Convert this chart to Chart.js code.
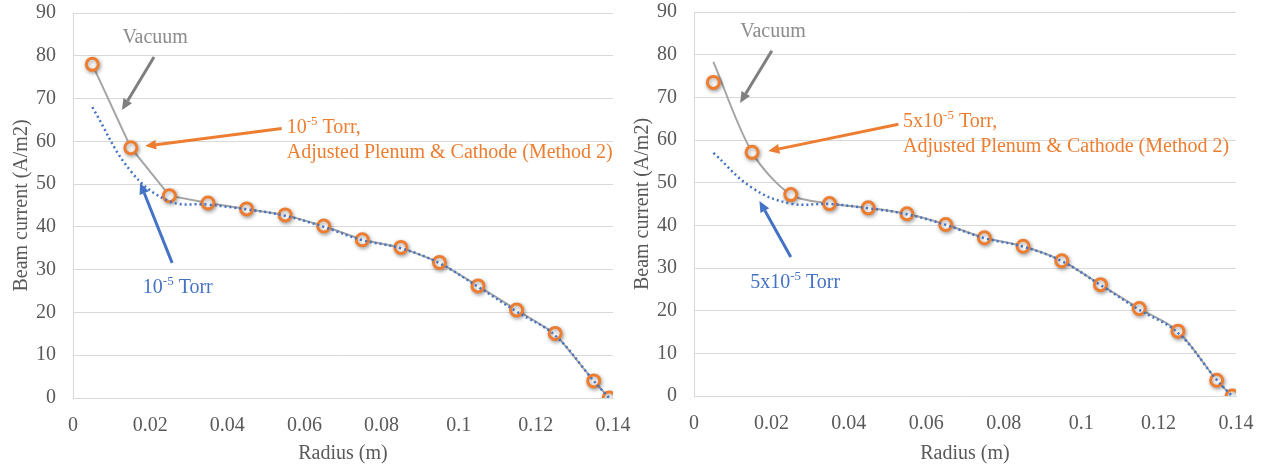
<!DOCTYPE html>
<html>
<head>
<meta charset="utf-8">
<script src="https://cdn.jsdelivr.net/npm/chart.js@4/dist/chart.umd.min.js"></script>
<style>
  body { margin: 0; background: #fff; }
  .box { position: absolute; top: 0; height: 466px; }
  #js--left { left: 0; width: 640px; }
  #js--right { left: 621px; width: 643px; }
</style>
</head>
<body>
<div class="box" id="js--left"><canvas id="js--chart--1"></canvas></div>
<div class="box" id="js--right"><canvas id="js--chart--2"></canvas></div>
<script>
const radius = [0.005, 0.015, 0.025, 0.035, 0.045, 0.055, 0.065, 0.075, 0.085, 0.095, 0.105, 0.115, 0.125, 0.135, 0.139];
const xTicks = [0, 0.02, 0.04, 0.06, 0.08, 0.1, 0.12, 0.14];
const yTicks = [0, 10, 20, 30, 40, 50, 60, 70, 80, 90];

// left chart: 10^-5 Torr
const vacuumLeft = [78, 58.5, 47.3, 45.6, 44.2, 42.8, 40.2, 37.0, 35.2, 31.7, 26.2, 20.6, 15.1, 4.0, 0];
const torrLeft = [68, 53, 46, 45.2, 44.1, 42.6, 40.0, 36.9, 35.0, 31.5, 26.0, 20.2, 14.6, 4.0, 0];
const methodLeft = [78, 58.5, 47.3, 45.6, 44.2, 42.8, 40.2, 37.0, 35.2, 31.7, 26.2, 20.6, 15.1, 4.0, 0];

// right chart: 5x10^-5 Torr
const vacuumRight = [78.3, 57.1, 47.2, 45.1, 44.1, 42.7, 40.2, 37.1, 35.1, 31.7, 26.1, 20.5, 15.2, 3.7, 0];
const torrRight = [57, 48.8, 45.1, 45.0, 44.0, 42.6, 40.1, 37.0, 35.0, 31.6, 26.0, 20.2, 14.8, 3.8, 0];
const methodRight = [73.5, 57.1, 47.2, 45.1, 44.1, 42.7, 40.2, 37.1, 35.1, 31.7, 26.1, 20.5, 15.2, 3.7, 0];

const grey = "#A5A5A5";
const greyDark = "#7F7F7F";
const orange = "#ED7D31";
const blue = "#4472C4";
const textGrey = "#595959";
const font = "'Liberation Serif', 'Times New Roman', serif";

// notes in data units: arrows [x1, y1] -> tip [x2, y2], text lines at [x, baseline y]
const notesLeft = {
    vacuum: { at: [0.0213, 83.0] },
    arrows: [
        { from: [0.0210, 79.7], to: [0.0127, 67.3], color: greyDark },
        { from: [0.0541, 63.0], to: [0.0187, 58.9], color: orange },
        { from: [0.0257, 31.6], to: [0.0174, 50.3], color: blue }
    ],
    orangeText: { at: [0.0554, 61.9], lead: "10", second: [0.0554, 56.1] },
    blueText: { at: [0.0181, 24.5], lead: "10" }
};
const notesRight = {
    vacuum: { at: [0.0204, 84.1] },
    arrows: [
        { from: [0.0201, 80.9], to: [0.0119, 68.7], color: greyDark },
        { from: [0.0528, 63.7], to: [0.0192, 57.4], color: orange },
        { from: [0.0250, 32.6], to: [0.0169, 45.7], color: blue }
    ],
    orangeText: { at: [0.0540, 63.0], lead: "5x10", second: [0.0540, 57.2] },
    blueText: { at: [0.0145, 25.3], lead: "5x10" }
};

function points(values) {
    return values.map(function (v, i) { return { x: radius[i], y: v }; });
}

function drawArrow(ctx, x1, y1, x2, y2, color) {
    const ang = Math.atan2(y2 - y1, x2 - x1);
    const head = 11;
    const half = 5;
    const bx = x2 - head * Math.cos(ang);
    const by = y2 - head * Math.sin(ang);
    ctx.strokeStyle = color;
    ctx.fillStyle = color;
    ctx.lineWidth = 3;
    ctx.beginPath();
    ctx.moveTo(x1, y1);
    ctx.lineTo(bx, by);
    ctx.stroke();
    ctx.beginPath();
    ctx.moveTo(x2, y2);
    ctx.lineTo(bx + half * Math.sin(ang), by - half * Math.cos(ang));
    ctx.lineTo(bx - half * Math.sin(ang), by + half * Math.cos(ang));
    ctx.closePath();
    ctx.fill();
}

// text with a "-5" superscript after the lead
function drawTorr(ctx, x, y, lead, tail, color) {
    ctx.fillStyle = color;
    ctx.textAlign = "left";
    ctx.textBaseline = "alphabetic";
    ctx.font = "20px " + font;
    ctx.fillText(lead, x, y);
    x += ctx.measureText(lead).width;
    ctx.font = "13px " + font;
    ctx.fillText("-5", x, y - 8);
    x += ctx.measureText("-5").width;
    ctx.font = "20px " + font;
    ctx.fillText(tail, x, y);
}

const notePlugin = {
    id: "notes",
    afterDatasetsDraw(chart) {
        const notes = chart.options.plugins.notes;
        const xs = chart.scales.x;
        const ys = chart.scales.y;
        const ctx = chart.ctx;
        const px = function (p) { return [xs.getPixelForValue(p[0]), ys.getPixelForValue(p[1])]; };
        ctx.save();
        notes.arrows.forEach(function (a) {
            const f = px(a.from);
            const t = px(a.to);
            drawArrow(ctx, f[0], f[1], t[0], t[1], a.color);
        });
        const v = px(notes.vacuum.at);
        ctx.font = "20px " + font;
        ctx.fillStyle = "#8C8C8C";
        ctx.textAlign = "center";
        ctx.textBaseline = "alphabetic";
        ctx.fillText("Vacuum", v[0], v[1]);
        const o = px(notes.orangeText.at);
        drawTorr(ctx, o[0], o[1], notes.orangeText.lead, " Torr,", orange);
        const o2 = px(notes.orangeText.second);
        ctx.font = "20px " + font;
        ctx.fillStyle = orange;
        ctx.textAlign = "left";
        ctx.fillText("Adjusted Plenum & Cathode (Method 2)", o2[0], o2[1]);
        const b = px(notes.blueText.at);
        drawTorr(ctx, b[0], b[1], notes.blueText.lead, " Torr", blue);
        ctx.restore();
    }
};

const shadowPlugin = {
    id: "markerShadow",
    beforeDatasetDraw(chart, args) {
        if (chart.data.datasets[args.index].shadow) {
            chart.ctx.save();
            chart.ctx.shadowColor = "rgba(0,0,0,0.35)";
            chart.ctx.shadowBlur = 4;
            chart.ctx.shadowOffsetX = 1;
            chart.ctx.shadowOffsetY = 1.5;
        }
    },
    afterDatasetDraw(chart, args) {
        if (chart.data.datasets[args.index].shadow) {
            chart.ctx.restore();
        }
    }
};

function makeConfig(vacuum, torr, method, greyTension, notes, top, right, xHeight) {
    return {
        type: "scatter",
        data: {
            datasets: [
                {
                    label: "Torr",
                    data: points(torr),
                    showLine: true,
                    borderColor: blue,
                    borderWidth: 2.5,
                    borderDash: [2, 3],
                    tension: 0.4,
                    pointRadius: 0,
                    order: 0
                },
                {
                    label: "Method 2",
                    data: points(method),
                    showLine: false,
                    shadow: true,
                    pointRadius: 6,
                    pointBorderWidth: 3,
                    pointBorderColor: orange,
                    pointBackgroundColor: "#fff",
                    order: 1
                },
                {
                    label: "Vacuum",
                    data: points(vacuum),
                    showLine: true,
                    borderColor: grey,
                    borderWidth: 2,
                    tension: greyTension,
                    pointRadius: 0,
                    order: 2
                }
            ]
        },
        options: {
            responsive: true,
            maintainAspectRatio: false,
            animation: false,
            layout: { padding: { top: top, right: right, left: 10, bottom: 0 } },
            plugins: {
                legend: { display: false },
                tooltip: { enabled: false },
                notes: notes
            },
            scales: {
                x: {
                    type: "linear",
                    min: 0,
                    max: 0.14,
                    afterBuildTicks: function (s) { s.ticks = xTicks.map(function (v) { return { value: v }; }); },
                    afterFit: function (s) {
                        s.height = xHeight;
                        s.paddingLeft = 0;
                        s.paddingRight = 0;
                    },
                    ticks: {
                        color: textGrey,
                        font: { family: font, size: 20 },
                        padding: 16,
                        maxRotation: 0,
                        callback: function (v) { return String(Number(v.toFixed(2))); }
                    },
                    grid: { display: false, drawTicks: false },
                    border: { color: "#D9D9D9", width: 1 },
                    title: {
                        display: true,
                        text: "Radius (m)",
                        color: textGrey,
                        font: { family: font, size: 20 },
                        padding: { top: 0, bottom: 0 }
                    }
                },
                y: {
                    min: 0,
                    max: 90,
                    afterBuildTicks: function (s) { s.ticks = yTicks.map(function (v) { return { value: v }; }); },
                    afterFit: function (s) {
                        s.width = 63;
                        s.paddingTop = 0;
                        s.paddingBottom = 0;
                    },
                    ticks: {
                        color: textGrey,
                        font: { family: font, size: 20 },
                        padding: 17
                    },
                    grid: { color: "#D9D9D9", lineWidth: 1, drawTicks: false },
                    border: { color: "#D9D9D9", width: 1 },
                    title: {
                        display: true,
                        text: "Beam current (A/m2)",
                        color: textGrey,
                        font: { family: font, size: 20 },
                        padding: { top: 0, bottom: 0 }
                    }
                }
            }
        },
        plugins: [notePlugin, shadowPlugin]
    };
}

new Chart(document.getElementById("js--chart--1"), makeConfig(vacuumLeft, torrLeft, methodLeft, 0, notesLeft, 13, 27, 68));
new Chart(document.getElementById("js--chart--2"), makeConfig(vacuumRight, torrRight, methodRight, 0.3, notesRight, 12, 28, 70));
</script>
</body>
</html>
